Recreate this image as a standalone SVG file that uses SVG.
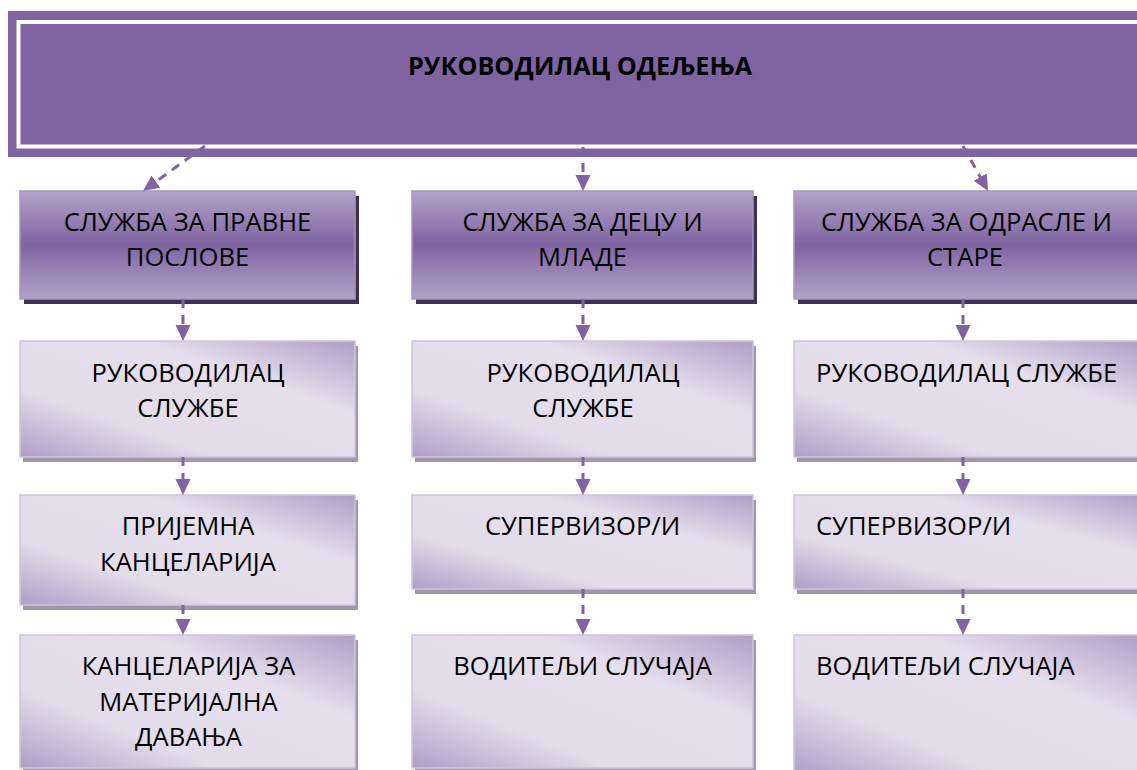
<svg xmlns="http://www.w3.org/2000/svg" width="1137" height="770" viewBox="0 0 1137 770">
<style>
.t{font-family:"Open Sans","Liberation Sans",sans-serif;font-size:25.6px;fill:#000}
.tc{text-anchor:middle}
.title{font-family:"Open Sans","Liberation Sans",sans-serif;font-size:25.2px;font-weight:bold;fill:#000;text-anchor:middle}
.dk{fill:url(#gDark);stroke:#A897C0;stroke-width:1.5}
.lt{fill:url(#gLight);stroke:#CFC5DD;stroke-width:1.5}
.sdk{fill:#3F3151}
.slt{fill:#A097AC}
.con{fill:none;stroke:#8064A2;stroke-width:3;stroke-dasharray:9 7;marker-end:url(#ah)}
</style>
<defs>
<linearGradient id="gDark" x1="0" y1="0" x2="0" y2="1">
<stop offset="0" stop-color="#B2A2C9"/>
<stop offset="0.5" stop-color="#8064A2"/>
<stop offset="1" stop-color="#B2A2C9"/>
</linearGradient>
<linearGradient id="gLight" x1="0" y1="1" x2="1" y2="0">
<stop offset="0" stop-color="#AF9EC6"/>
<stop offset="0.3" stop-color="#E3DDEB"/>
<stop offset="0.68" stop-color="#E5DFED"/>
<stop offset="1" stop-color="#AF9EC6"/>
</linearGradient>
<marker id="ah" markerUnits="userSpaceOnUse" markerWidth="17" markerHeight="16" refX="4" refY="7.5" orient="auto" viewBox="0 0 17 16">
<path d="M0,0 L16,7.5 L0,15 z" fill="#8064A2"/>
</marker>
</defs>
<rect width="1137" height="770" fill="#FFFFFF"/>

<g id="n-head">
<rect x="8" y="11" width="1140" height="146" fill="#8064A2"/>
<rect x="18.5" y="22" width="1140" height="124.5" fill="none" stroke="#FFFFFF" stroke-width="4"/>
<text class="title" x="580" y="75">РУКОВОДИЛАЦ ОДЕЉЕЊА</text>
</g>

<g id="n-legal">
<rect class="sdk" x="24" y="196" width="335" height="108"/>
<rect class="dk" x="20" y="191" width="335" height="108"/>
<text class="t tc" x="187.5" y="231">СЛУЖБА ЗА ПРАВНЕ</text>
<text class="t tc" x="187.5" y="266">ПОСЛОВЕ</text>
</g>
<g id="n-children">
<rect class="sdk" x="416" y="196" width="341" height="108"/>
<rect class="dk" x="412" y="191" width="341" height="108"/>
<text class="t tc" x="582.5" y="231">СЛУЖБА ЗА ДЕЦУ И</text>
<text class="t tc" x="582.5" y="266">МЛАДЕ</text>
</g>
<g id="n-adults">
<rect class="sdk" x="798" y="196" width="350" height="108"/>
<rect class="dk" x="794" y="191" width="350" height="108"/>
<text class="t tc" x="966.5" y="231">СЛУЖБА ЗА ОДРАСЛЕ И</text>
<text class="t tc" x="965" y="266">СТАРЕ</text>
</g>

<g id="n-legal-head">
<rect class="slt" x="23" y="346" width="335" height="116"/>
<rect class="lt" x="20" y="341" width="335" height="116"/>
<text class="t tc" x="188" y="382">РУКОВОДИЛАЦ</text>
<text class="t tc" x="188" y="417">СЛУЖБЕ</text>
</g>
<g id="n-children-head">
<rect class="slt" x="415" y="346" width="341" height="116"/>
<rect class="lt" x="412" y="341" width="341" height="116"/>
<text class="t tc" x="583" y="382">РУКОВОДИЛАЦ</text>
<text class="t tc" x="583" y="417">СЛУЖБЕ</text>
</g>
<g id="n-adults-head">
<rect class="slt" x="797" y="346" width="350" height="116"/>
<rect class="lt" x="794" y="341" width="350" height="116"/>
<text class="t" x="816" y="382">РУКОВОДИЛАЦ СЛУЖБЕ</text>
</g>

<g id="n-reception">
<rect class="slt" x="23" y="500" width="335" height="110"/>
<rect class="lt" x="20" y="495" width="335" height="110"/>
<text class="t tc" x="188" y="535">ПРИЈЕМНА</text>
<text class="t tc" x="188" y="571">КАНЦЕЛАРИЈА</text>
</g>
<g id="n-children-sup">
<rect class="slt" x="415" y="500" width="341" height="94"/>
<rect class="lt" x="412" y="495" width="341" height="94"/>
<text class="t tc" x="582.5" y="535">СУПЕРВИЗОР/И</text>
</g>
<g id="n-adults-sup">
<rect class="slt" x="797" y="500" width="350" height="94"/>
<rect class="lt" x="794" y="495" width="350" height="94"/>
<text class="t" x="816" y="535">СУПЕРВИЗОР/И</text>
</g>

<g id="n-material">
<rect class="slt" x="23" y="640" width="335" height="134"/>
<rect class="lt" x="20" y="635" width="335" height="133"/>
<text class="t tc" x="188.5" y="675">КАНЦЕЛАРИЈА ЗА</text>
<text class="t tc" x="188.5" y="711">МАТЕРИЈАЛНА</text>
<text class="t tc" x="188.5" y="746">ДАВАЊА</text>
</g>
<g id="n-children-case">
<rect class="slt" x="415" y="640" width="341" height="134"/>
<rect class="lt" x="412" y="635" width="341" height="133"/>
<text class="t tc" x="582.5" y="675">ВОДИТЕЉИ СЛУЧАЈА</text>
</g>
<g id="n-adults-case">
<rect class="slt" x="797" y="640" width="350" height="134"/>
<rect class="lt" x="794" y="635" width="350" height="140"/>
<text class="t" x="816" y="675">ВОДИТЕЉИ СЛУЧАЈА</text>
</g>

<g id="connectors">
<line class="con" x1="205" y1="146" x2="152.7" y2="184"/>
<line class="con" x1="583" y1="147" x2="583" y2="179"/>
<line class="con" x1="963" y1="146" x2="982.2" y2="180.5"/>
<line class="con" x1="183" y1="299" x2="183" y2="329"/>
<line class="con" x1="583" y1="299" x2="583" y2="329"/>
<line class="con" x1="963" y1="299" x2="963" y2="329"/>
<line class="con" x1="183" y1="457" x2="183" y2="483"/>
<line class="con" x1="583" y1="457" x2="583" y2="483"/>
<line class="con" x1="963" y1="457" x2="963" y2="483"/>
<line class="con" x1="183" y1="605" x2="183" y2="623"/>
<line class="con" x1="583" y1="589" x2="583" y2="623"/>
<line class="con" x1="963" y1="589" x2="963" y2="623"/>
</g>
</svg>
